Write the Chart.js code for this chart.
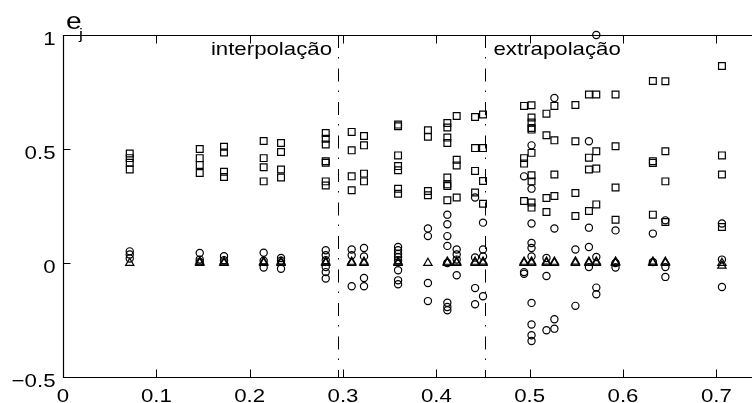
<!DOCTYPE html>
<html>
<head>
<meta charset="utf-8">
<script src="https://cdn.jsdelivr.net/npm/chart.js@4.4.0/dist/chart.umd.min.js"></script>
<style>
  html, body { margin: 0; padding: 0; background: #fff; overflow: hidden; }
</style>
</head>
<body>
<canvas id="grafico" width="770" height="403"></canvas>
<script>
// posição (x) de cada coluna de pontos
const colX = [0.0715, 0.1465, 0.1725, 0.215, 0.2336, 0.2815, 0.3093, 0.3225, 0.359, 0.391,
              0.4118, 0.4218, 0.4415, 0.45, 0.494, 0.502, 0.518, 0.5265, 0.549, 0.5635,
              0.5714, 0.592, 0.632, 0.6454, 0.706];

// erros e_j marcados com quadrado
const squareVals = [
  [0.48, 0.46, 0.44, 0.41],
  [0.50, 0.46, 0.43, 0.395],
  [0.51, 0.485, 0.40, 0.377],
  [0.535, 0.46, 0.42, 0.358],
  [0.526, 0.487, 0.41, 0.375],
  [0.57, 0.545, 0.52, 0.446, 0.44, 0.358, 0.34],
  [0.575, 0.494, 0.38, 0.319],
  [0.557, 0.516, 0.392, 0.358],
  [0.607, 0.60, 0.472, 0.425, 0.407, 0.326, 0.304],
  [0.582, 0.554, 0.316, 0.297],
  [0.614, 0.594, 0.55, 0.526, 0.375, 0.345, 0.338, 0.275],
  [0.645, 0.453, 0.428, 0.287],
  [0.64, 0.504, 0.404, 0.309],
  [0.651, 0.504, 0.36, 0.26],
  [0.689, 0.46, 0.436, 0.272],
  [0.692, 0.638, 0.616, 0.592, 0.585, 0.483, 0.385, 0.358, 0.265, 0.243],
  [0.655, 0.56, 0.285, 0.224],
  [0.689, 0.538, 0.388, 0.294],
  [0.693, 0.534, 0.307, 0.206],
  [0.739, 0.462, 0.41, 0.228],
  [0.739, 0.49, 0.414, 0.257],
  [0.739, 0.512, 0.331, 0.19],
  [0.798, 0.446, 0.439, 0.212],
  [0.797, 0.49, 0.358, 0.18],
  [0.864, 0.472, 0.388, 0.158]
];

// erros e_j marcados com círculo
const circleVals = [
  [0.051, 0.037, 0.02],
  [0.044, 0.015, 0.005],
  [0.03, 0.012],
  [0.045, 0.01, -0.02],
  [0.022, 0.01, -0.025],
  [0.056, 0.034, 0.012, -0.018, -0.04, -0.068],
  [0.059, 0.034, -0.102],
  [0.066, 0.029, -0.066, -0.102],
  [0.07, 0.056, 0.041, 0.026, 0.012, -0.032, -0.076, -0.093],
  [0.151, 0.118, -0.088, -0.167],
  [0.212, 0.17, 0.118, 0.075, 0.0, -0.174, -0.193, -0.207],
  [0.059, 0.037, 0.015, -0.054],
  [0.287, 0.024, -0.11, -0.181],
  [0.177, 0.059, 0.029, -0.146],
  [0.38, -0.04, -0.047],
  [0.516, 0.326, 0.173, 0.088, 0.066, 0.029, -0.175, -0.27, -0.317, -0.342],
  [0.022, -0.057, -0.295],
  [0.724, 0.151, -0.247, -0.288],
  [0.059, -0.188],
  [0.534, 0.155, 0.07, -0.018],
  [1.0, 0.026, -0.108, -0.137],
  [0.143, 0.0, -0.02],
  [0.129, 0.004],
  [0.187, -0.018, -0.061],
  [0.173, 0.015, -0.105]
];

// erros e_j marcados com triângulo (quase todos em zero)
const triangleVals = [
  [0.0],
  [0.0, 0.006], [0.0, 0.006], [0.0, 0.005], [0.0, 0.006], [0.0, 0.006],
  [0.0, 0.005], [0.0, 0.005], [0.0, 0.006], [0.0],        [0.0, 0.005],
  [0.0, 0.005], [0.0, 0.005], [0.0, 0.006], [0.0, 0.005], [0.0, 0.006],
  [0.0, 0.006], [0.0, 0.005], [0.0, 0.006], [0.0, 0.005], [0.0, 0.006],
  [0.0, 0.006], [0.0, 0.006], [0.0, 0.005], [0.0, -0.012]
];

const xTicks = [0, 0.1, 0.2, 0.3, 0.4, 0.5, 0.6, 0.7];
const yTicks = [-0.5, 0, 0.5, 1];
const limites = [0.295, 0.4525]; // fronteiras interpolação / extrapolação

function pontos(vals) {
  return colX.flatMap((x, i) => vals[i].map(y => ({ x: x, y: y })));
}

const FONTE = '"Liberation Sans", Arial, Helvetica, sans-serif';
const ESTICA = 1.17;

function texto(ctx, str, x, y, align, size) {
  ctx.save();
  ctx.translate(x, y);
  ctx.scale(ESTICA, 1);
  ctx.font = size + 'px ' + FONTE;
  ctx.textAlign = align;
  ctx.textBaseline = 'alphabetic';
  ctx.fillStyle = '#000';
  ctx.fillText(str, 0, 0);
  ctx.restore();
}

function rotulo(v) {
  const s = String(Math.round(v * 10) / 10);
  return s.replace('-', '\u2212');
}

// eixos no estilo do matlab: caixa, marcas para dentro, linhas tracejadas
const eixosMatlab = {
  id: 'eixosMatlab',
  beforeDatasetsDraw(chart) {
    const ctx = chart.ctx;
    const a = chart.chartArea;
    const sx = chart.scales.x;
    ctx.save();
    ctx.strokeStyle = '#000';
    ctx.lineWidth = 1;
    ctx.setLineDash([13, 9, 1.5, 10]);
    limites.forEach(v => {
      const px = Math.round(sx.getPixelForValue(v)) + 0.5;
      ctx.beginPath();
      ctx.moveTo(px, a.top);
      ctx.lineTo(px, a.bottom);
      ctx.stroke();
    });
    ctx.restore();
  },
  afterDraw(chart) {
    const ctx = chart.ctx;
    const a = chart.chartArea;
    const sx = chart.scales.x, sy = chart.scales.y;
    const L = Math.round(a.left) + 0.5, R = Math.round(a.right) + 0.5;
    const T = Math.round(a.top) + 0.5, B = Math.round(a.bottom) + 0.5;
    ctx.save();
    ctx.strokeStyle = '#000';
    ctx.lineWidth = 1.2;
    ctx.beginPath();
    ctx.moveTo(L, T); ctx.lineTo(R, T); ctx.lineTo(R, B); ctx.lineTo(L, B); ctx.closePath();
    ctx.stroke();

    ctx.lineWidth = 1;
    ctx.beginPath();
    sx.ticks.forEach(t => {
      const px = Math.round(sx.getPixelForValue(t.value)) + 0.5;
      ctx.moveTo(px, B); ctx.lineTo(px, B - 8);
      ctx.moveTo(px, T); ctx.lineTo(px, T + 8);
    });
    sy.ticks.forEach(t => {
      const py = Math.round(sy.getPixelForValue(t.value)) + 0.5;
      ctx.moveTo(L, py); ctx.lineTo(L + 7, py);
      ctx.moveTo(R, py); ctx.lineTo(R - 7, py);
    });
    ctx.stroke();
    ctx.restore();

    sx.ticks.forEach(t => {
      texto(ctx, rotulo(t.value), sx.getPixelForValue(t.value), 401.5, 'center', 19);
    });
    sy.ticks.forEach(t => {
      texto(ctx, rotulo(t.value), 55.5, sy.getPixelForValue(t.value) + 9.8, 'right', 19);
    });

    texto(ctx, 'interpolação', 332, 54.5, 'right', 19);
    texto(ctx, 'extrapolação', 493.5, 55, 'left', 19);
    texto(ctx, 'e', 66, 28.5, 'left', 24);
    texto(ctx, 'j', 79, 39, 'left', 15);
  }
};

const estiloBase = {
  borderColor: '#000',
  backgroundColor: 'rgba(0,0,0,0)',
  borderWidth: 1.2,
  clip: false
};

new Chart(document.getElementById('grafico'), {
  type: 'scatter',
  data: {
    datasets: [
      Object.assign({ label: 'quadrados', data: pontos(squareVals), pointStyle: 'rect', pointRadius: 4.8 }, estiloBase),
      Object.assign({ label: 'círculos', data: pontos(circleVals), pointStyle: 'circle', pointRadius: 3.6 }, estiloBase),
      Object.assign({ label: 'triângulos', data: pontos(triangleVals), pointStyle: 'triangle', pointRadius: 4.8, borderWidth: 1.5 }, estiloBase)
    ]
  },
  options: {
    responsive: false,
    animation: false,
    events: [],
    layout: { padding: { top: 35, right: 7, left: 0, bottom: 0 } },
    plugins: { legend: { display: false }, tooltip: { enabled: false } },
    scales: {
      x: {
        type: 'linear', min: 0, max: 0.75,
        grid: { display: false }, border: { display: false },
        ticks: { display: false },
        afterBuildTicks(s) { s.ticks = xTicks.map(v => ({ value: v })); },
        afterFit(s) { s.height = 26; }
      },
      y: {
        type: 'linear', min: -0.5, max: 1,
        grid: { display: false }, border: { display: false },
        ticks: { display: false },
        afterBuildTicks(s) { s.ticks = yTicks.map(v => ({ value: v })); },
        afterFit(s) { s.width = 63; }
      }
    }
  },
  plugins: [eixosMatlab]
});
</script>
</body>
</html>
